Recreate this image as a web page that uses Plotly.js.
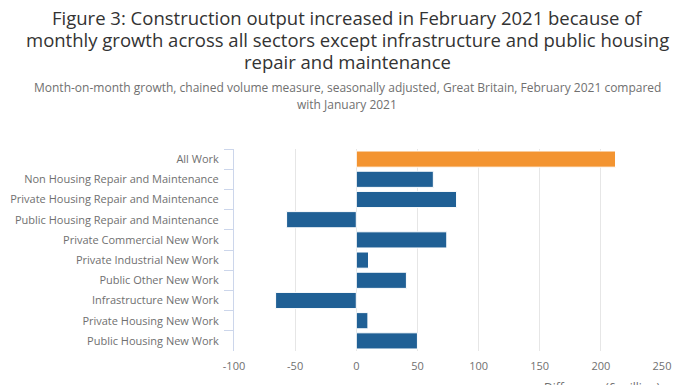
<!DOCTYPE html>
<html>
<head>
<meta charset="utf-8">
<script src="https://cdn.plot.ly/plotly-3.0.1.min.js"></script>
<style>html,body{margin:0;padding:0;background:#fff}#chart{width:696px;height:385px}</style>
</head>
<body>
<div id="chart"></div>
<script>
const categories = [
  "All Work",
  "Non Housing Repair and Maintenance",
  "Private Housing Repair and Maintenance",
  "Public Housing Repair and Maintenance",
  "Private Commercial New Work",
  "Private Industrial New Work",
  "Public Other New Work",
  "Infrastructure New Work",
  "Private Housing New Work",
  "Public Housing New Work"
];
const values = [212, 63, 82, -57, 74, 10, 41, -66, 9.5, 50];
const barColors = ["#f39431", "#206095", "#206095", "#206095", "#206095", "#206095", "#206095", "#206095", "#206095", "#206095"];
const xTicks = [-100, -50, 0, 50, 100, 150, 200, 250];
const titleLines = [
  "Figure 3: Construction output increased in February 2021 because of",
  "monthly growth across all sectors except infrastructure and public housing",
  "repair and maintenance"
];
const subtitleLines = [
  "Month-on-month growth, chained volume measure, seasonally adjusted, Great Britain, February 2021 compared",
  "with January 2021"
];
const xAxisTitle = "Difference (£ million)";

const font = "Open Sans, sans-serif";
const annotations = [];
const titleY = [18, 39.5, 61];
titleLines.forEach((t, i) => annotations.push({
  text: t, xref: "paper", yref: "paper", x: 0.2645, xanchor: "center",
  y: 1 + (149 - titleY[i]) / 202, yanchor: "middle", showarrow: false,
  font: {family: font, size: 18.5, color: "#333333"}
}));
const subY = [87, 104];
subtitleLines.forEach((t, i) => annotations.push({
  text: t, xref: "paper", yref: "paper", x: 0.2645, xanchor: "center",
  y: 1 + (149 - subY[i]) / 202, yanchor: "middle", showarrow: false,
  font: {family: font, size: 12, color: "#707070"}
}));
annotations.push({
  text: xAxisTitle, xref: "paper", yref: "paper", x: 1, xanchor: "right",
  y: -(387 - 351) / 202, yanchor: "middle", showarrow: false,
  font: {family: font, size: 12, color: "#707070"}
});

Plotly.newPlot("chart", [{
  type: "bar",
  orientation: "h",
  y: categories,
  x: values,
  marker: {color: barColors, line: {color: "#ffffff", width: 1}},
  width: 0.8,
  hoverinfo: "x+y"
}], {
  width: 696, height: 385,
  margin: {l: 234, r: 34, t: 149, b: 34},
  paper_bgcolor: "#ffffff", plot_bgcolor: "#ffffff",
  showlegend: false,
  font: {family: font, color: "#707070", size: 11},
  xaxis: {
    range: [-100, 250], tickvals: xTicks, ticktext: xTicks.map(String),
    showgrid: true, gridcolor: "#e6e6e6", gridwidth: 1,
    zeroline: false, showline: false,
    ticks: "outside", ticklen: 5, tickcolor: "rgba(0,0,0,0)",
    tickfont: {family: font, size: 11, color: "#707070"}
  },
  yaxis: {
    type: "category", autorange: "reversed",
    showgrid: false, zeroline: false,
    showline: true, linecolor: "#ccd6eb", linewidth: 1,
    ticks: "outside", tickson: "boundaries", ticklen: 9, tickcolor: "#ccd6eb",
    ticklabelstandoff: 12,
    tickfont: {family: font, size: 11, color: "#707070"}
  },
  annotations: annotations
}, {displayModeBar: false, staticPlot: true});
</script>
</body>
</html>
